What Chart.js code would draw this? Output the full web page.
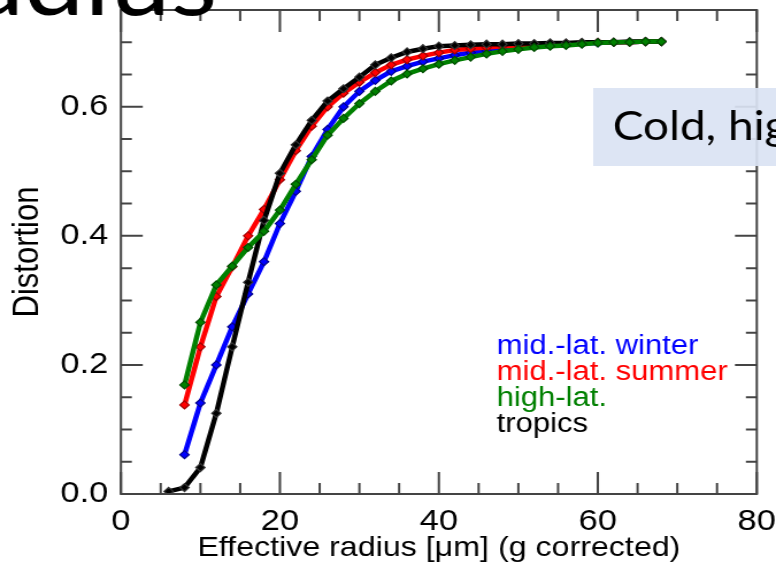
<!DOCTYPE html>
<html>
<head>
<meta charset="utf-8">
<script src="https://cdn.jsdelivr.net/npm/chart.js@4/dist/chart.umd.min.js"></script>
<style>
  html, body { margin: 0; padding: 0; background: #fff; overflow: hidden; }
  #wrap { position: absolute; left: 0; top: 0; width: 675px; height: 569px;
          transform: scaleX(1.1496); transform-origin: 0 0; }
  #c { display: block; }
</style>
</head>
<body>
<div id="wrap"><canvas id="c" width="675" height="569"></canvas></div>
<script>
// Effective radius grid (µm, g corrected)
const radiusTropics = [6, 8, 10, 12, 14, 16, 18, 20, 22, 24, 26, 28, 30, 32, 34, 36, 38, 40, 42, 44, 46, 48, 50, 52, 54, 56, 58, 60, 62, 64, 66, 68];
const radiusOther   = [8, 10, 12, 14, 16, 18, 20, 22, 24, 26, 28, 30, 32, 34, 36, 38, 40, 42, 44, 46, 48, 50, 52, 54, 56, 58, 60, 62, 64, 66, 68];

// Distortion for each atmosphere profile
const midLatWinter = [0.061, 0.141, 0.200, 0.259, 0.310, 0.360, 0.419, 0.469, 0.523, 0.565, 0.600, 0.624, 0.641, 0.655, 0.663, 0.670, 0.675, 0.680, 0.684, 0.687, 0.690, 0.692, 0.694, 0.696, 0.697, 0.698, 0.699, 0.700, 0.700, 0.701, 0.701];
const midLatSummer = [0.138, 0.228, 0.306, 0.352, 0.400, 0.441, 0.487, 0.532, 0.570, 0.600, 0.621, 0.638, 0.653, 0.665, 0.673, 0.679, 0.684, 0.688, 0.690, 0.692, 0.694, 0.695, 0.696, 0.697, 0.698, 0.699, 0.700, 0.700, 0.700, 0.701, 0.701];
const highLat      = [0.169, 0.266, 0.324, 0.353, 0.382, 0.407, 0.440, 0.480, 0.518, 0.556, 0.582, 0.605, 0.624, 0.640, 0.651, 0.659, 0.666, 0.672, 0.677, 0.682, 0.686, 0.689, 0.692, 0.694, 0.695, 0.697, 0.699, 0.700, 0.700, 0.701, 0.701];
const tropics      = [0.004, 0.010, 0.041, 0.125, 0.228, 0.328, 0.424, 0.497, 0.541, 0.579, 0.609, 0.628, 0.646, 0.665, 0.676, 0.685, 0.690, 0.694, 0.695, 0.696, 0.697, 0.697, 0.698, 0.698, 0.699, 0.699, 0.700, 0.700, 0.700, 0.701, 0.701, 0.701];

const seriesNames = ['mid.-lat. winter', 'mid.-lat. summer', 'high-lat.', 'tropics'];
const seriesColors = ['#0000ff', '#ff0000', '#008000', '#000000'];
const seriesEdge = ['#00008c', '#a00000', '#004d00', '#333333'];

const xTickValues = [0, 20, 40, 60, 80];
const yTickValues = [0.0, 0.2, 0.4, 0.6];

const pairs = (xs, ys) => xs.map((r, i) => ({ x: r, y: ys[i] }));

Chart.defaults.font.family = '"Liberation Sans", Arial, Helvetica, sans-serif';
Chart.defaults.color = '#000';

function makeSet(idx, xs, ys, order) {
  return {
    label: seriesNames[idx],
    data: pairs(xs, ys),
    borderColor: seriesColors[idx],
    backgroundColor: seriesColors[idx],
    pointBackgroundColor: seriesColors[idx],
    pointBorderColor: seriesEdge[idx],
    pointBorderWidth: 1.2,
    pointStyle: 'rectRot',
    pointRadius: 4,
    borderWidth: 4.5,
    showLine: true,
    tension: 0,
    order: order
  };
}

// Box frame with inward major/minor ticks on all four sides
const frameTicks = {
  id: 'frameTicks',
  afterDatasetsDraw(chart) {
    const { ctx, chartArea: a, scales: { x, y } } = chart;
    ctx.save();
    ctx.strokeStyle = '#444';
    ctx.lineWidth = 2;
    ctx.strokeRect(a.left, a.top, a.right - a.left, a.bottom - a.top);
    ctx.beginPath();
    for (let v = 0; v <= 80; v += 5) {
      const px = x.getPixelForValue(v);
      const len = v % 20 === 0 ? 22 : 11;
      ctx.moveTo(px, a.bottom); ctx.lineTo(px, a.bottom - len);
      ctx.moveTo(px, a.top); ctx.lineTo(px, a.top + len);
    }
    for (let k = 0; k <= 15; k++) {
      const v = k * 0.05;
      const py = y.getPixelForValue(v);
      const len = k % 4 === 0 ? 19 : 9.5;
      ctx.moveTo(a.left, py); ctx.lineTo(a.left + len, py);
      ctx.moveTo(a.right, py); ctx.lineTo(a.right - len, py);
    }
    ctx.stroke();
    ctx.restore();
  }
};

// Series key, heading fragment and callout box
const annotations = {
  id: 'annotations',
  afterDraw(chart) {
    const { ctx } = chart;
    ctx.save();
    ctx.font = '27px "Liberation Sans", Arial, sans-serif';
    ctx.textAlign = 'left';
    ctx.textBaseline = 'alphabetic';
    const baselines = [354, 380, 406, 432];
    seriesNames.forEach((name, i) => {
      ctx.fillStyle = seriesColors[i];
      ctx.fillText(name, 432, baselines[i]);
    });

    ctx.fillStyle = '#000';
    ctx.font = '400 94px Lato, "Open Sans", sans-serif';
    ctx.textAlign = 'right';
    ctx.fillText('radius', 189, 15);

    ctx.fillStyle = 'rgba(218, 227, 243, 0.92)';
    ctx.fillRect(516, 88, 200, 78);
    ctx.fillStyle = '#000';
    ctx.textAlign = 'left';
    ctx.font = '40px Lato, "Open Sans", sans-serif';
    ctx.fillText('Cold, high', 533, 140);
    ctx.restore();
  }
};

new Chart(document.getElementById('c'), {
  type: 'scatter',
  data: {
    datasets: [
      makeSet(0, radiusOther, midLatWinter, 3),
      makeSet(1, radiusOther, midLatSummer, 2),
      makeSet(2, radiusOther, highLat, 0),
      makeSet(3, radiusTropics, tropics, 1)
    ]
  },
  options: {
    responsive: false,
    animation: false,
    devicePixelRatio: 1,
    layout: { padding: { top: 10, right: 16.7, left: 0, bottom: 0 } },
    plugins: { legend: { display: false }, tooltip: { enabled: false } },
    scales: {
      x: {
        type: 'linear',
        min: 0, max: 80,
        grid: { display: false },
        border: { display: false },
        afterBuildTicks: s => { s.ticks = xTickValues.map(v => ({ value: v })); },
        afterFit: s => { s.height = 75; s.paddingLeft = 0; s.paddingRight = 0; },
        ticks: { font: { size: 30 }, padding: 2, maxRotation: 0, callback: v => String(v) },
        title: {
          display: true,
          text: 'Effective radius [μm] (g corrected)',
          font: { size: 28 },
          padding: { top: 0, bottom: 4 }
        }
      },
      y: {
        type: 'linear',
        min: 0, max: 0.75,
        grid: { display: false },
        border: { display: false },
        afterBuildTicks: s => { s.ticks = yTickValues.map(v => ({ value: v })); },
        afterFit: s => { s.width = 105.2; s.paddingTop = 0; s.paddingBottom = 0; },
        ticks: { font: { size: 30 }, padding: 3, callback: v => v.toFixed(1) },
        title: {
          display: true,
          text: 'Distortion',
          font: { size: 31 },
          padding: { top: 6, bottom: 0 }
        }
      }
    }
  },
  plugins: [frameTicks, annotations]
});
</script>
</body>
</html>
